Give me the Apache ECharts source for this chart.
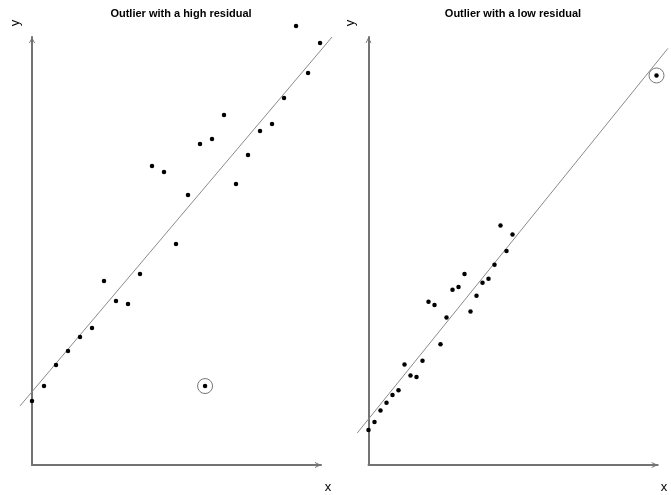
<!DOCTYPE html>
<html>
<head>
<meta charset="utf-8">
<title>Outliers and residuals</title>
<script src="https://cdn.jsdelivr.net/npm/echarts@6/dist/echarts.min.js"></script>
<style>
  html, body { margin: 0; padding: 0; background: #fff; }
  #chart { width: 671px; height: 495px; }
</style>
</head>
<body>
<div id="chart"></div>
<script>
// shared 25 points
const xVals = [0, 1, 2, 3, 4, 5, 6, 7, 8, 9, 10, 11, 12, 13, 14, 15, 16, 17, 18, 19, 20, 21, 22, 23, 24]
const yVals = [5.33, 6.58, 8.33, 9.5, 10.67, 11.42, 15.33, 13.67, 13.42, 15.92, 24.92, 24.42, 18.42,
  22.5, 26.75, 27.17, 29.17, 23.42, 25.83, 27.83, 28.42, 30.58, 36.58, 32.67, 35.17]

// the circled outlier of each panel
const outlierHigh = [14.42, 6.58]
const outlierLow = [48, 59.47]

// fitted lines (end points as drawn)
const fitHighX = [-1, 25]
const fitHighY = [4.92, 35.67]
const fitLowX = [-1.87, 49.9]
const fitLowY = [4.89, 63.6]

const titles = ['Outlier with a high residual', 'Outlier with a low residual']

const chart = echarts.init(document.getElementById('chart'))

const axisColor = '#737373'
const arrowPath = 'path://M0,10 L5,0 L10,10 L8.4,10 L5,3.2 L1.6,10 Z'

const makeAxis = (gridIndex, max) => ({
  type: 'value',
  gridIndex: gridIndex,
  min: 0,
  max: max,
  axisLine: {
    show: true,
    onZero: false,
    symbol: ['none', arrowPath],
    symbolSize: [8, 6],
    symbolOffset: [0, -3],
    lineStyle: { color: axisColor, width: 2 }
  },
  axisTick: { show: false },
  axisLabel: { show: false },
  splitLine: { show: false }
})

const points = xVals.map((x, i) => [x, yVals[i]])
const fitHigh = fitHighX.map((x, i) => [x, fitHighY[i]])
const fitLow = fitLowX.map((x, i) => [x, fitLowY[i]])

const dotSeries = (idx, data) => ({
  type: 'scatter',
  xAxisIndex: idx,
  yAxisIndex: idx,
  data: data,
  symbol: 'circle',
  symbolSize: 4.5,
  clip: false,
  silent: true,
  itemStyle: { color: '#000', opacity: 1 }
})

const ringSeries = (idx, p) => ({
  type: 'scatter',
  xAxisIndex: idx,
  yAxisIndex: idx,
  data: [p],
  symbol: 'circle',
  symbolSize: 15,
  clip: false,
  silent: true,
  itemStyle: { color: 'rgba(0,0,0,0)', borderColor: '#777', borderWidth: 1, opacity: 1 }
})

// fitted line drawn as one segment between its two end points, not clipped to the grid
const lineSeries = (idx, data) => ({
  type: 'custom',
  xAxisIndex: idx,
  yAxisIndex: idx,
  data: data,
  clip: false,
  silent: true,
  encode: { x: 0, y: 1 },
  renderItem: (params, api) => {
    if (params.dataIndex !== 0) return
    const p0 = api.coord(data[0])
    const p1 = api.coord(data[1])
    return {
      type: 'line',
      shape: { x1: p0[0], y1: p0[1], x2: p1[0], y2: p1[1] },
      style: { stroke: '#8a8a8a', lineWidth: 1 }
    }
  }
})

const text = (str, x, y, font) => ({
  type: 'text',
  x: x,
  y: y,
  style: {
    text: str,
    font: font,
    fill: '#000',
    align: 'center',
    verticalAlign: 'middle'
  }
})

const rotatedText = (str, x, y, font) => ({
  type: 'group',
  x: x,
  y: y,
  rotation: Math.PI / 2,
  children: [text(str, 0, 0, font)]
})

const labelFont = '13px "Liberation Sans", Arial, sans-serif'
const titleFont = 'bold 11px "Liberation Sans", Arial, sans-serif'

const option = {
  backgroundColor: '#fff',
  animation: false,
  grid: [
    { left: 32, top: 37, width: 289, height: 428 },
    { left: 368.5, top: 37, width: 289.2, height: 428 }
  ],
  xAxis: [makeAxis(0, 24.08), makeAxis(1, 48.2)],
  yAxis: [makeAxis(0, 35.67), makeAxis(1, 65.34)],
  series: [
    lineSeries(0, fitHigh),
    dotSeries(0, points),
    dotSeries(0, [outlierHigh]),
    ringSeries(0, outlierHigh),
    lineSeries(1, fitLow),
    dotSeries(1, points),
    dotSeries(1, [outlierLow]),
    ringSeries(1, outlierLow)
  ],
  graphic: [
    text(titles[0], 181, 14, titleFont),
    text(titles[1], 513, 14, titleFont),
    text('x', 328, 487, labelFont),
    text('x', 664, 487, labelFont),
    rotatedText('y', 15, 23, labelFont),
    rotatedText('y', 350, 23, labelFont)
  ]
}

chart.setOption(option)
</script>
</body>
</html>
